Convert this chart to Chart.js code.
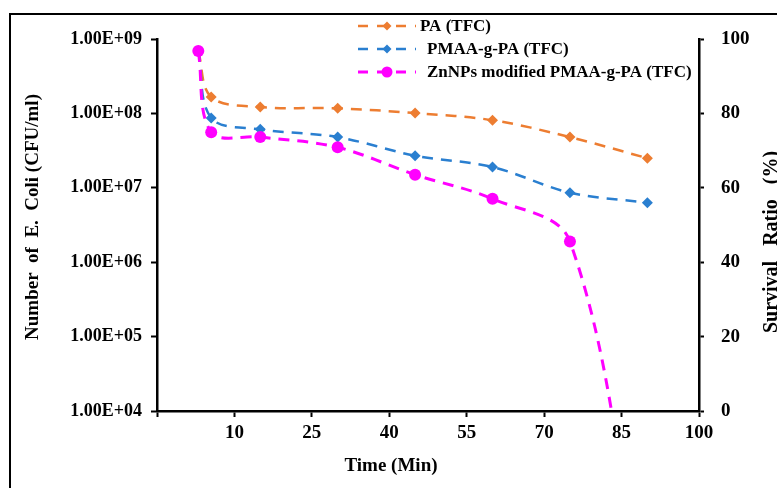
<!DOCTYPE html>
<html>
<head>
<meta charset="utf-8">
<script src="https://cdn.jsdelivr.net/npm/chart.js@4/dist/chart.umd.min.js"></script>
<style>
  html, body { margin: 0; padding: 0; background: #fff; }
  #wrap { width: 777px; height: 488px; position: relative; }
</style>
</head>
<body>
<div id="wrap"><canvas id="chart" width="777" height="488"></canvas></div>
<script>
// Data
const times = [3, 5.5, 15, 30, 45, 60, 75, 90];
const paTfc = [6.9e8, 1.66e8, 1.22e8, 1.17e8, 1.01e8, 8.1e7, 4.8e7, 2.5e7];
const pmaaTfc = [6.9e8, 8.7e7, 6.1e7, 4.8e7, 2.7e7, 1.9e7, 8.6e6, 6.3e6];
const znTfc = [6.9e8, 5.6e7, 4.8e7, 3.5e7, 1.5e7, 7.1e6, 1.9e6, 10];
const seriesNames = ['PA (TFC)', 'PMAA-g-PA (TFC)', 'ZnNPs modified PMAA-g-PA (TFC)'];
const countTicks = [1e4, 1e5, 1e6, 1e7, 1e8, 1e9];
const timeTicks = [-5, 10, 25, 40, 55, 70, 85, 100];
const ratioTicks = [0, 20, 40, 60, 80, 100];

const FONT = 'Liberation Serif, Times New Roman, serif';
const colors = ['#ED7D31', '#2A7FD0', '#FF00FF'];

function toPoints(ys) {
    return times.map((t, i) => ({ x: t, y: ys[i] }));
}

function sciLabel(v) {
    const e = Math.floor(Math.log10(v) + 1e-9);
    const m = (v / Math.pow(10, e)).toFixed(2);
    return m + 'E' + (e < 0 ? '-' : '+') + String(Math.abs(e)).padStart(2, '0');
}

// axis titles, legend and outer frame drawn by hand
const decorPlugin = {
    id: 'decor',
    afterDraw(chart) {
        const ctx = chart.ctx;
        const area = chart.chartArea;
        ctx.save();

        // outer frame (only top and left edges are visible)
        ctx.strokeStyle = '#000';
        ctx.lineWidth = 2;
        ctx.beginPath();
        ctx.moveTo(10, 488);
        ctx.lineTo(10, 14);
        ctx.lineTo(777, 14);
        ctx.stroke();

        ctx.fillStyle = '#000';
        ctx.font = 'bold 19px ' + FONT;
        ctx.textAlign = 'center';
        ctx.textBaseline = 'middle';

        // x title
        ctx.fillText('Time (Min)', 391, 466);

        // left title
        ctx.save();
        ctx.translate(33, (area.top + area.bottom) / 2 - 8);
        ctx.rotate(-Math.PI / 2);
        ctx.fillText('Number  of  E.  Coli (CFU/ml)', 0, 0);
        ctx.restore();

        // right title
        ctx.save();
        ctx.font = 'bold 20px ' + FONT;
        ctx.translate(772, 242);
        ctx.rotate(-Math.PI / 2);
        ctx.fillText('Survival   Ratio   (%)', 0, 0);
        ctx.restore();

        // legend
        const rows = [26, 49, 72];
        const textX = [420, 427, 427];
        ctx.font = 'bold 17px ' + FONT;
        ctx.textAlign = 'left';
        seriesNames.forEach((name, i) => {
            const y = rows[i];
            ctx.strokeStyle = colors[i];
            ctx.lineWidth = i === 2 ? 3 : 2.5;
            ctx.setLineDash([10, 9]);
            ctx.beginPath();
            ctx.moveTo(358, y);
            ctx.lineTo(416, y);
            ctx.stroke();
            ctx.setLineDash([]);
            ctx.fillStyle = colors[i];
            ctx.beginPath();
            if (i === 2) {
                ctx.arc(387, y, 5.5, 0, Math.PI * 2);
            } else {
                ctx.moveTo(387, y - 4.5);
                ctx.lineTo(391.5, y);
                ctx.lineTo(387, y + 4.5);
                ctx.lineTo(382.5, y);
                ctx.closePath();
            }
            ctx.fill();
            ctx.fillStyle = '#000';
            ctx.fillText(name, textX[i], y + 1);
        });

        ctx.restore();
    }
};

function lineSet(label, ys, i, style, radius, order) {
    return {
        label: label,
        data: toPoints(ys),
        yAxisID: 'y',
        borderColor: colors[i],
        backgroundColor: colors[i],
        borderWidth: i === 2 ? 3 : 2.5,
        borderDash: [11, 8],
        pointStyle: style,
        pointRadius: radius,
        pointBorderWidth: 0,
        pointBackgroundColor: colors[i],
        tension: 0.35,
        order: order
    };
}

new Chart(document.getElementById('chart'), {
    type: 'line',
    data: {
        datasets: [
            lineSet(seriesNames[0], paTfc, 0, 'rectRot', 5.5, 3),
            lineSet(seriesNames[1], pmaaTfc, 1, 'rectRot', 5.5, 2),
            lineSet(seriesNames[2], znTfc, 2, 'circle', 6, 1)
        ]
    },
    options: {
        responsive: false,
        animation: false,
        layout: { padding: { top: 39, left: 0, right: 0, bottom: 0 } },
        plugins: {
            legend: { display: false },
            tooltip: { enabled: false }
        },
        scales: {
            x: {
                type: 'linear',
                min: -5,
                max: 100,
                afterBuildTicks: (scale) => { scale.ticks = timeTicks.map(v => ({ value: v })); },
                afterFit: (scale) => { scale.height = 77; },
                grid: { drawOnChartArea: false, tickLength: 6, tickColor: '#000', tickWidth: 2 },
                border: { color: '#000', width: 2.5 },
                ticks: {
                    padding: 5,
                    color: '#000',
                    font: { family: FONT, size: 19, weight: 'bold' },
                    callback: (v) => v < 0 ? '' : String(v)
                }
            },
            y: {
                type: 'logarithmic',
                position: 'left',
                min: 1e4,
                max: 1e9,
                afterBuildTicks: (scale) => { scale.ticks = countTicks.map(v => ({ value: v })); },
                afterFit: (scale) => { scale.width = 157; },
                grid: { drawOnChartArea: false, tickLength: 6, tickColor: '#000', tickWidth: 2 },
                border: { color: '#000', width: 2.5 },
                ticks: {
                    padding: 9,
                    color: '#000',
                    font: { family: FONT, size: 18, weight: 'bold' },
                    callback: (v) => sciLabel(v)
                }
            },
            y2: {
                type: 'linear',
                position: 'right',
                min: 0,
                max: 100,
                afterBuildTicks: (scale) => { scale.ticks = ratioTicks.map(v => ({ value: v })); },
                afterFit: (scale) => { scale.width = 78; },
                grid: { drawOnChartArea: false, tickLength: 5, tickColor: '#000', tickWidth: 2 },
                border: { color: '#000', width: 2.5, dash: [9, 6] },
                ticks: {
                    padding: 17,
                    color: '#000',
                    font: { family: FONT, size: 19, weight: 'bold' }
                }
            }
        }
    },
    plugins: [decorPlugin]
});
</script>
</body>
</html>
